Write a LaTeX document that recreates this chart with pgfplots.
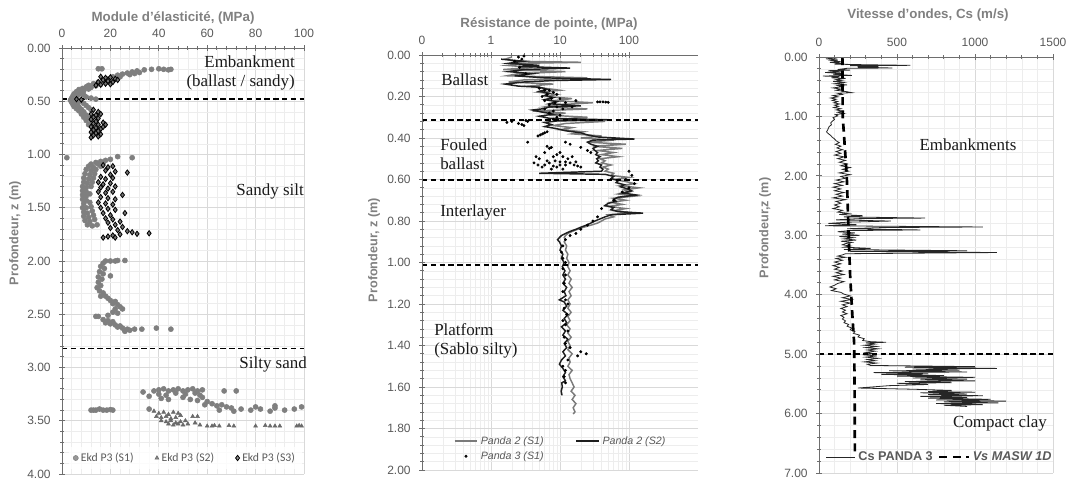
\documentclass[border=0pt]{standalone}
\usepackage{pgfplots}
\pgfplotsset{compat=1.18}
\usepackage{fontspec}
\setmainfont{Liberation Sans}
\newfontfamily\seriffont{Liberation Serif}
\newfontfamily\calfont{Carlito}
\definecolor{tickgray}{HTML}{595959}
\definecolor{titlegray}{HTML}{808080}
\definecolor{axgray}{HTML}{6E6E6E}
\definecolor{sone}{HTML}{7F7F7F}
\definecolor{stwo}{HTML}{6A6A6A}
\definecolor{pgray}{HTML}{7A7A7A}
\definecolor{pdark}{HTML}{1E1E1E}
\pgfplotsset{
  depthax/.style={
    scale only axis, y dir=reverse,
    axis line style={draw=none},
    grid=both,
    major grid style={draw=black!15, line width=0.5pt},
    minor grid style={draw=black!7, line width=0.4pt},
    tick style={draw=axgray, line width=0.6pt},
    tick align=center,
    major tick length=4pt, minor tick length=2.5pt,
    xtick pos=right, xticklabel pos=right,
    ytick pos=left, yticklabel pos=left,
    ticklabel style={font=\fontsize{9}{10}\selectfont, text=tickgray},
    /pgf/number format/assume math mode=true,
    yticklabel style={xshift=-3pt, /pgf/number format/.cd, fixed, fixed zerofill, precision=2},
    xticklabel style={yshift=2pt},
  },
  hdash/.style={black, line width=1.1pt, dash pattern=on 4pt off 2.6pt, forget plot},
}
\begin{document}
\begin{tikzpicture}
\useasboundingbox (0pt,0pt) rectangle (803.25pt,-360pt);
% ---------------- Panel 1 ----------------
\begin{axis}[depthax, at={(46.5pt,-36pt)}, anchor=north west,
  width=181.5pt, height=319.5pt,
  xmin=0, xmax=100, ymin=0, ymax=4,
  xtick={0,20,...,100}, minor x tick num=4,
  ytick={0,0.5,...,4}, minor y tick num=4,
  legend style={draw=none, fill=white, fill opacity=0.8, text opacity=1,
    at={(axis description cs:0.51,0.012)}, anchor=south,
    font=\calfont\fontsize{8.8}{10}\selectfont, text=tickgray,
    legend columns=3, /tikz/every even column/.append style={column sep=14pt}},
]
\addplot[only marks, mark=*, mark size=1.9pt, mark options={fill=sone, draw=sone}] coordinates {
(15,0.195)(16.5,0.195)(31,0.215)(34,0.205)(37,0.20)(40,0.195)(42,0.20)(44,0.205)(45,0.20)
(29,0.225)(27,0.235)(25,0.245)(23,0.255)(30,0.24)(32,0.23)(28,0.25)
(21,0.27)(24,0.27)(19,0.29)(22,0.285)(17,0.30)(20,0.31)(15,0.32)(18,0.325)(13,0.335)(16,0.34)
(11,0.35)(14,0.355)(10,0.365)(12,0.37)(8.5,0.38)(11,0.385)(7,0.39)(9,0.40)(6,0.41)(8,0.415)
(5,0.43)(7,0.435)(4.5,0.45)(6,0.455)(4,0.47)(5.5,0.475)(3.5,0.49)(5,0.50)(7,0.49)(4,0.51)
(6,0.515)(8,0.50)(4.5,0.53)(6.5,0.535)(9,0.52)(5,0.55)(7,0.555)(10,0.54)(6,0.57)(8,0.575)
(11,0.56)(7,0.59)(9,0.60)(12,0.58)(8,0.62)(10,0.63)(9,0.65)(11,0.66)(10,0.68)(12,0.70)(11,0.72)
(10,0.46)(12,0.47)(14,0.48)(9,0.44)
(2,1.03)(23,1.02)(29,1.03)(20,1.045)(18,1.055)(16,1.065)(14,1.075)(12,1.09)(15,1.09)(17,1.08)
(11,1.11)(13,1.12)(16,1.11)(10,1.14)(12,1.15)(14,1.14)(9.5,1.18)(11.5,1.19)(13.5,1.18)
(9,1.22)(11,1.23)(13,1.22)(9,1.26)(10.5,1.27)(12.5,1.26)(8.5,1.30)(10,1.31)(12,1.30)
(8.5,1.34)(10,1.35)(8.5,1.38)(10,1.39)(11.5,1.37)(8.5,1.42)(10,1.43)(11.5,1.45)(9,1.46)
(8.5,1.50)(10,1.50)(12,1.49)(9,1.54)(10.5,1.55)(12.5,1.53)(9,1.58)(11,1.59)(13,1.57)
(9.5,1.62)(11.5,1.63)(13.5,1.61)(10.5,1.66)(12.5,1.67)(14.5,1.66)
(18,2.0)(20,2.0)(22,2.0)(23,1.995)(26,1.995)(17,2.02)(16,2.05)(17.5,2.07)(15.5,2.10)(17,2.12)
(15,2.15)(16.5,2.17)(20,2.14)(15,2.20)(16,2.23)(14.5,2.25)(15.5,2.28)(17,2.30)(16,2.33)(18,2.33)
(19,2.35)(20,2.37)(22,2.38)(21,2.40)(23,2.41)(24,2.43)(22,2.45)(25,2.45)(21,2.48)(23,2.49)
(19,2.51)(15,2.52)(14,2.52)(17,2.55)(19,2.56)(21,2.57)(18,2.58)(22,2.60)(24,2.61)(25,2.63)
(27,2.64)(26,2.66)(28,2.65)(30,2.64)(33,2.64)(39,2.63)(45,2.64)(23,2.62)(20,2.59)
(12,3.40)(13,3.40)(14,3.40)(15.5,3.39)(17,3.40)(18.5,3.40)(20,3.395)(21,3.40)
(33.5,3.23)(36,3.27)(38,3.22)(40,3.21)(42,3.20)(44,3.22)(46,3.21)(48,3.20)(50,3.22)(52,3.21)
(54,3.20)(56,3.22)(58,3.21)(40,3.25)(43,3.26)(47,3.24)(51,3.25)(55,3.24)(57,3.26)(67,3.22)(72,3.22)
(41,3.29)(44,3.30)(50,3.28)(53,3.30)(56,3.31)(58,3.28)(60,3.32)(59,3.35)(62,3.34)(64,3.36)
(66,3.35)(68,3.37)(70,3.38)(65,3.40)(71,3.41)(74,3.39)(78,3.40)(82,3.39)(86,3.41)(88,3.38)
(92,3.40)(96,3.39)(99,3.37)(36,3.39)(80,3.37)(88,3.36)
};
\addlegendentry{Ekd P3 (S1)}
\addplot[only marks, mark=triangle*, mark size=1.7pt, mark options={fill=stwo, draw=stwo}] coordinates {
(38,3.41)(40,3.43)(42,3.42)(44,3.44)(46,3.42)(48,3.43)(39,3.46)(41,3.47)(43,3.46)(45,3.48)
(47,3.47)(49,3.45)(41,3.50)(43,3.51)(45,3.50)(47,3.52)(49,3.51)(51,3.50)(44,3.53)(46,3.54)
(48,3.53)(50,3.54)(52,3.53)(54,3.46)(56,3.46)(55,3.52)(57,3.54)(60,3.55)(62,3.55)(63,3.545)
(65,3.55)(69,3.545)(71,3.55)(80,3.55)(84,3.545)(86,3.55)(88,3.55)(90,3.55)(97,3.55)(98,3.545)(99,3.55)
};
\addlegendentry{Ekd P3 (S2)}
\addplot[only marks, mark=diamond*, mark size=2pt, mark options={fill=black!55, draw=black, line width=0.6pt}] coordinates {
(16,0.27)(18,0.28)(20,0.275)(22,0.29)(17,0.30)(19,0.31)(21,0.32)(15,0.32)(18,0.335)(16,0.345)
(14,0.35)(20,0.34)(23,0.30)(6,0.48)(8,0.485)
(13,0.58)(15,0.60)(12,0.62)(14,0.63)(16,0.62)(13,0.65)(15,0.66)(12,0.67)(14,0.69)(17,0.70)
(13,0.71)(15,0.72)(12,0.74)(14,0.75)(16,0.76)(13,0.77)(15,0.78)(12,0.79)(14,0.80)(16,0.81)
(13,0.82)(12,0.84)(15,0.83)(17,0.74)(18,0.72)
(17,1.10)(19,1.12)(21,1.11)(18,1.15)(22,1.16)(27,1.17)(20,1.19)(16,1.21)(18,1.23)(21,1.22)
(15,1.26)(17,1.28)(20,1.27)(16,1.31)(19,1.32)(22,1.30)(15,1.35)(18,1.36)(21,1.35)(25,1.38)
(16,1.40)(19,1.41)(22,1.42)(15,1.45)(18,1.46)(21,1.47)(16,1.50)(19,1.51)(22,1.52)(26,1.55)
(17,1.55)(20,1.57)(18,1.60)(21,1.61)(24,1.63)(19,1.64)(22,1.66)(25,1.68)(20,1.69)(23,1.71)
(27,1.72)(29,1.73)(31,1.745)(36,1.74)(24,1.75)(21,1.76)(19,1.77)(17,1.78)(22,1.78)
};
\addlegendentry{Ekd P3 (S3)}
\addplot[hdash] coordinates {(0,0.48)(100,0.48)};
\addplot[hdash] coordinates {(0,2.82)(100,2.82)};
\draw[axgray, line width=0.8pt] (axis description cs:0,0) -- (axis description cs:0,1) -- (axis description cs:1,1);
\end{axis}
% ---------------- Panel 2 ----------------
\begin{axis}[depthax, at={(316.5pt,-41.25pt)}, anchor=north west,
  width=207pt, height=311.25pt,
  xmode=log, xmin=0.1, xmax=1000, ymin=0, ymax=2,
  xtick={0.1,1,10,100}, xticklabels={0,1,10,100},
  ytick={0,0.2,...,2.01}, minor y tick num=4,
  legend style={draw=none, fill=none,
    at={(axis description cs:0.1,0.008)}, anchor=south west,
    font=\itshape\fontsize{8}{10}\selectfont, text=tickgray,
    legend columns=2, /tikz/every even column/.append style={column sep=22pt}},
]
\addplot[pgray, line width=1.1pt] coordinates {
(2,0.010)(1.6,0.020)(2.2,0.030)(20,0.035)(3,0.040)(1.7,0.050)(4,0.060)(1.5,0.070)(12,0.080)(2.5,0.090)
(1.7,0.100)(25,0.110)(3,0.120)(1.8,0.130)(8,0.140)(3.5,0.150)(6,0.160)(10,0.170)(5,0.180)(9,0.190)
(6.5,0.200)(15,0.210)(8,0.220)(30,0.230)(9,0.240)(6,0.250)(25,0.260)(4,0.270)(12,0.280)(7,0.290)
(25,0.300)(10,0.310)(45,0.320)(12,0.330)(8,0.340)(15,0.350)(10,0.360)(22,0.370)(15,0.380)(40,0.390)
(20,0.400)(60,0.410)(25,0.420)(90,0.430)(30,0.440)(80,0.450)(35,0.460)(60,0.470)(40,0.480)(70,0.490)
(38,0.500)(45,0.510)(40,0.520)(55,0.530)(42,0.540)(50,0.550)(45,0.560)(60,0.570)(55,0.580)(100,0.590)
(60,0.600)(90,0.610)(120,0.620)(75,0.630)(140,0.640)(85,0.650)(100,0.660)(70,0.670)(120,0.680)(60,0.690)
(90,0.700)(55,0.710)(80,0.720)(50,0.730)(90,0.740)(60,0.750)(110,0.760)(50,0.770)(60,0.780)(45,0.790)
(40,0.800)(35,0.810)(28,0.820)(22,0.830)(18,0.840)(15,0.850)(13,0.860)(12,0.870)(11.5,0.880)(12,0.890)
(11.5,0.90)(12.5,0.92)(12,0.94)(13,0.96)(12.5,0.98)(13.5,1.00)(13,1.02)(14,1.04)(13,1.06)(14.5,1.08)
(13.5,1.10)(15,1.12)(13.5,1.14)(14.5,1.16)(13,1.18)(14,1.20)(13,1.22)(14.5,1.24)(13,1.26)(14,1.28)
(12.5,1.30)(14,1.32)(13,1.34)(14.5,1.36)(13,1.38)(14,1.40)(13,1.42)(15,1.44)(13.5,1.46)(14,1.48)
(13,1.50)(15,1.52)(13.5,1.54)(14,1.56)(15,1.58)(16,1.60)(14.5,1.62)(16.5,1.64)(15,1.66)(17,1.68)
(15.5,1.70)(16.5,1.72)(15.5,1.73)
};
\addlegendentry{Panda 2 (S1)}
\addplot[pdark, line width=1.1pt] coordinates {
(1.4,0.020)(3,0.030)(1.8,0.040)(5,0.050)(2.5,0.055)(14,0.063)(3,0.070)(1.8,0.080)(4,0.090)(2.2,0.100)
(6,0.110)(55,0.118)(8,0.123)(3,0.130)(1.6,0.140)(2.5,0.150)(5,0.155)(6.5,0.165)(5,0.175)(7,0.185)
(6,0.195)(8,0.205)(6,0.215)(9,0.225)(7,0.235)(20,0.245)(7,0.250)(6,0.258)(4,0.265)(5.5,0.275)
(8,0.285)(5,0.295)(7,0.305)(50,0.312)(9,0.318)(6,0.325)(7.5,0.335)(6,0.345)(9,0.355)(12,0.365)
(20,0.375)(25,0.385)(35,0.395)(120,0.405)(30,0.410)(25,0.420)(28,0.430)(35,0.440)(30,0.450)(32,0.460)
(35,0.470)(33,0.480)(38,0.490)(34,0.500)(36,0.510)(33,0.520)(40,0.530)(38,0.540)(42,0.550)(40,0.560)
(5,0.570)(45,0.575)(60,0.585)(55,0.595)(70,0.605)(65,0.615)(85,0.625)(75,0.635)(95,0.645)(110,0.655)
(80,0.665)(130,0.675)(70,0.685)(60,0.695)(65,0.705)(50,0.715)(45,0.725)(60,0.735)(55,0.745)(70,0.755)
(160,0.762)(55,0.770)(45,0.780)(38,0.790)(32,0.800)(28,0.810)(24,0.820)(20,0.830)(17,0.840)(14,0.850)
(12,0.860)(10.5,0.870)(9.8,0.880)(9.2,0.890)(9.8,0.900)(10.5,0.92)(10,0.94)(11,0.96)(10.5,0.98)
(11.5,1.00)(10.8,1.02)(11.8,1.04)(11,1.06)(12,1.08)(11,1.10)(12.5,1.12)(11.5,1.14)(12.2,1.16)(9.8,1.18)
(11.5,1.19)(12.5,1.21)(11,1.23)(13,1.25)(11.5,1.27)(12.5,1.29)(10.5,1.31)(12,1.33)(11,1.35)(13,1.37)
(11.5,1.39)(12.5,1.41)(11,1.43)(12,1.45)(10.5,1.47)(9.8,1.49)(11,1.51)(12,1.53)(11,1.55)(12,1.57)
(10.6,1.58)(10.8,1.60)(10.4,1.62)(10.7,1.64)
};
\addlegendentry{Panda 2 (S2)}
\addplot[only marks, mark=*, mark size=0.9pt, black] coordinates {
(2.5,0.01)(2.8,0.02)(3.0,0.005)(2.2,0.03)(2.6,0.06)(3.2,0.09)
(5,0.16)(6,0.17)(7,0.17)(8,0.18)(6.5,0.19)(9,0.19)(5.5,0.20)(7.5,0.21)(10,0.21)(6,0.22)(8.5,0.23)
(12,0.23)(7,0.24)(9,0.25)(6,0.26)(11,0.26)(8,0.27)(7,0.28)(10,0.29)(9,0.30)(8,0.31)(17,0.22)(15,0.25)
(35,0.226)(38,0.226)(42,0.226)(46,0.227)(50,0.228)
(1.7,0.325)(2.0,0.32)(2.5,0.33)(2.8,0.335)(3.2,0.315)(3.4,0.32)(3.0,0.34)
(3.4,0.42)(4.8,0.39)(5.2,0.385)(5.6,0.38)(6,0.375)(6.5,0.37)
(6.5,0.44)(7,0.45)(7.5,0.445)(6,0.47)(4.5,0.49)(5,0.50)(8,0.49)(9,0.48)(10,0.47)(11,0.49)(13,0.50)
(15,0.49)(4.2,0.52)(4.8,0.53)(6,0.53)(7,0.52)(8,0.535)(9,0.54)(10,0.53)(12,0.53)(14,0.52)(16,0.53)
(18,0.535)(20,0.54)(5.5,0.54)(7.5,0.55)(11,0.55)(6.5,0.51)(8.5,0.51)(10,0.515)(12,0.515)(17,0.515)
(12,0.42)(14,0.43)(20,0.445)(25,0.46)(28,0.47)
(100,0.56)(110,0.58)(90,0.60)(120,0.62)(100,0.64)(80,0.66)(60,0.70)(40,0.74)(35,0.78)(30,0.80)
(25,0.82)(20,0.84)(17,0.86)(14,0.87)(12,0.89)
(11,0.92)(10.5,0.95)(11,0.98)(12,1.0)(11,1.03)(12,1.06)(11.5,1.1)(11,1.14)(12,1.18)(13,1.2)
(11.5,1.22)(12.5,1.25)(11,1.28)(12,1.3)(13,1.33)(11.5,1.36)(12,1.39)(14,1.41)(20,1.43)(24,1.44)
(18,1.45)(13,1.47)(11,1.5)(12,1.52)(11.5,1.55)(12,1.58)
};
\addlegendentry{Panda 3 (S1)}
\addplot[hdash] coordinates {(0.1,0.313)(1000,0.313)};
\addplot[hdash] coordinates {(0.1,0.602)(1000,0.602)};
\addplot[hdash] coordinates {(0.1,1.012)(1000,1.012)};
\draw[axgray, line width=0.8pt] (axis description cs:0,0) -- (axis description cs:0,1) -- (axis description cs:1,1);
\end{axis}
% ---------------- Panel 3 ----------------
\begin{axis}[depthax, at={(614.25pt,-42.75pt)}, anchor=north west,
  width=175.5pt, height=312pt,
  xmin=0, xmax=1500, ymin=0, ymax=7,
  xtick={0,500,1000,1500}, minor x tick num=4,
  xticklabel style={/pgf/number format/1000 sep={}},
  ytick={0,1,...,7}, minor y tick num=4,
  legend style={draw=none, fill=none,
    at={(axis description cs:0.01,0.012)}, anchor=south west,
    font=\bfseries\fontsize{9.5}{11}\selectfont, text=tickgray,
    legend columns=2, /tikz/every even column/.append style={column sep=2pt}},
  legend image code/.code={\draw[#1] (0pt,0pt) -- (22pt,0pt);},
]
\addplot[black!85, line width=0.6pt] coordinates {
(60,0.00)(100,0.02)(45,0.03)(120,0.05)(80,0.06)(140,0.08)(70,0.09)(160,0.11)(100,0.12)(300,0.13)
(585,0.14)(200,0.145)(380,0.16)(250,0.17)(470,0.185)(180,0.19)(120,0.21)(200,0.22)(60,0.23)(140,0.25)
(40,0.26)(160,0.28)(90,0.29)(210,0.31)(25,0.32)(130,0.33)(80,0.35)(170,0.36)(110,0.38)(150,0.40)
(90,0.41)(160,0.43)(100,0.45)(180,0.47)(120,0.48)(150,0.50)(90,0.52)(140,0.54)(110,0.56)(170,0.58)
(210,0.60)(120,0.61)(150,0.63)(90,0.65)(120,0.67)(75,0.69)(110,0.71)(85,0.73)(120,0.75)(95,0.77)
(130,0.79)(100,0.81)(125,0.83)(95,0.85)(140,0.87)(110,0.89)(150,0.91)(120,0.93)(160,0.95)(105,0.97)
(120,0.99)(90,1.02)(100,1.05)(85,1.08)(75,1.11)(80,1.14)(65,1.17)(60,1.20)(55,1.23)(48,1.26)
(60,1.29)(75,1.32)(85,1.35)(100,1.38)(110,1.41)(130,1.44)(105,1.47)(140,1.50)(115,1.53)(150,1.56)
(110,1.59)(140,1.62)(100,1.65)(160,1.68)(120,1.71)(170,1.74)(130,1.77)(180,1.80)(140,1.83)(200,1.86)
(150,1.89)(190,1.92)(130,1.95)(200,1.98)(140,2.01)(170,2.04)(110,2.07)(160,2.10)(100,2.13)(150,2.16)
(90,2.19)(140,2.22)(100,2.25)(160,2.28)(110,2.31)(150,2.34)(90,2.37)(170,2.40)(110,2.43)(140,2.46)
(100,2.49)(130,2.52)(90,2.55)(150,2.58)(120,2.61)(190,2.63)(130,2.65)(280,2.67)(160,2.69)(680,2.71)
(250,2.72)(110,2.74)(460,2.76)(180,2.78)(60,2.80)(240,2.82)(40,2.84)(1050,2.86)(400,2.87)(180,2.89)
(650,2.91)(200,2.92)(120,2.94)(230,2.96)(150,2.98)(260,3.00)(130,3.02)(220,3.04)(160,3.06)(240,3.08)
(140,3.10)(210,3.12)(170,3.14)(150,3.16)(200,3.18)(160,3.20)(330,3.22)(160,3.24)(950,3.26)(200,3.27)
(1140,3.29)(170,3.31)(150,3.33)(120,3.35)(170,3.37)(110,3.39)(150,3.42)(100,3.45)(140,3.48)(90,3.51)
(130,3.54)(100,3.57)(150,3.60)(110,3.63)(160,3.66)(90,3.69)(140,3.72)(100,3.75)(160,3.78)(120,3.81)
(100,3.84)(70,3.87)(110,3.90)(80,3.93)(140,3.96)(160,3.99)(200,4.02)(150,4.05)(210,4.08)(140,4.11)
(200,4.14)(150,4.17)(180,4.20)(140,4.23)(170,4.26)(150,4.29)(180,4.32)(140,4.35)(160,4.38)(150,4.41)
(170,4.44)(160,4.47)(190,4.50)(180,4.53)(210,4.56)(200,4.59)(230,4.62)(220,4.65)(260,4.68)(250,4.71)
(290,4.74)(280,4.77)(330,4.79)(430,4.80)(300,4.81)(360,4.83)(290,4.85)(370,4.87)(300,4.89)(380,4.91)
(310,4.93)(360,4.95)(300,4.97)(350,4.99)(280,5.01)(370,5.03)(300,5.05)(380,5.07)(310,5.09)(360,5.11)
(290,5.13)(370,5.15)(310,5.17)(330,5.19)(1000,5.21)(550,5.22)(1140,5.24)(600,5.25)(900,5.27)(450,5.28)
(950,5.30)(350,5.31)(700,5.33)(400,5.34)(800,5.36)(500,5.37)(1000,5.39)(600,5.40)(950,5.42)(650,5.43)
(1000,5.45)(550,5.46)(850,5.48)(500,5.49)(700,5.51)(450,5.53)(350,5.55)(250,5.57)(600,5.59)(850,5.61)
(700,5.63)(1000,5.64)(650,5.65)(950,5.67)(700,5.68)(1050,5.70)(650,5.71)(950,5.73)(700,5.74)(1100,5.76)
(750,5.77)(1200,5.79)(800,5.80)(1150,5.82)(750,5.83)(1050,5.85)(800,5.86)(950,5.88)
};
\addlegendentry{Cs PANDA 3}
\addplot[black, line width=2pt, dash pattern=on 6pt off 4pt] coordinates {
(150,0)(152,1.0)(165,1.5)(178,2.0)(190,3.0)(200,3.7)(215,4.4)(225,4.8)(228,5.5)(230,6.65)
};
\addlegendentry{\textit{Vs MASW 1D}}
\addplot[hdash] coordinates {(0,5.0)(1500,5.0)};
\draw[axgray, line width=0.8pt] (axis description cs:0,0) -- (axis description cs:0,1) -- (axis description cs:1,1);
\end{axis}
% ---------------- texts ----------------
\tikzset{ttl/.style={font=\bfseries\fontsize{10}{12}\selectfont, text=titlegray},
         ylab/.style={rotate=90, font=\bfseries\fontsize{9.5}{11}\selectfont, text=titlegray},
         ann/.style={font=\seriffont\fontsize{12.7}{15}\selectfont, text=black!90, inner sep=0pt}}
\node[ttl] at (129.75pt,-13.5pt) {Module d'élasticité, (MPa)};
\node[ttl] at (411.75pt,-18pt) {Résistance de pointe, (MPa)};
\node[ttl] at (696pt,-11.25pt) {Vitesse d'ondes, Cs (m/s)};
\node[ylab] at (11.25pt,-174.75pt) {Profondeur, z (m)};
\node[ylab] at (280.5pt,-187.5pt) {Profondeur, z (m)};
\node[ylab] at (573.75pt,-171pt) {Profondeur,z (m)};
\node[ann, anchor=east] at (221.25pt,-46.5pt) {Embankment};
\node[ann, anchor=east] at (221.25pt,-61.5pt) {(ballast / sandy)};
\node[ann, anchor=east] at (228pt,-143.25pt) {Sandy silt};
\node[ann, anchor=east] at (230.25pt,-273pt) {Silty sand};
\node[ann, anchor=west] at (330.75pt,-60pt) {Ballast};
\node[ann, anchor=west] at (330pt,-108.75pt) {Fouled};
\node[ann, anchor=west] at (330pt,-123pt) {ballast};
\node[ann, anchor=west] at (330pt,-159pt) {Interlayer};
\node[ann, anchor=west] at (325.5pt,-247.5pt) {Platform};
\node[ann, anchor=west] at (325.5pt,-262.5pt) {(Sablo silty)};
\node[ann] at (726pt,-108.75pt) {Embankments};
\node[ann] at (750pt,-317.25pt) {Compact clay};
\end{tikzpicture}
\end{document}
